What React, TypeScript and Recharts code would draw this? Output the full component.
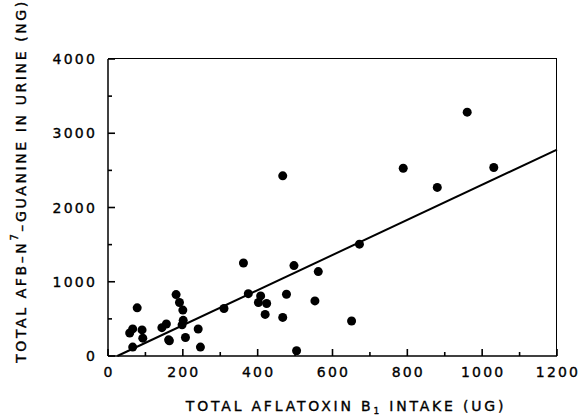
import React from 'react';
import { ScatterChart, Scatter, XAxis, YAxis } from 'recharts';

// total aflatoxin B1 intake (ug) and AFB-N7-guanine in urine (ng), one entry per subject
const intake = [
	58, 66, 66, 78, 91, 93, 144, 156, 162, 164, 182, 191, 200, 198, 201, 207, 241, 247, 310, 362, 375, 408,
	402, 424, 420, 467, 467, 477, 497, 504, 553, 562, 651, 672, 789, 880, 960, 1031,
];
const guanine = [
	310, 365, 120, 649, 351, 240, 382, 431, 218, 205, 827, 720, 618, 420, 480, 249, 364, 120, 640, 1253, 840,
	809, 720, 707, 560, 2426, 520, 831, 1218, 71, 742, 1137, 471, 1506, 2529, 2271, 3284, 2538,
];

// end points of the fitted line as drawn
const fitX = [25, 1200];
const fitY = [0, 2780];

const xTicks = [0, 50, 100, 150, 200, 250, 300, 350, 400, 450, 500, 550, 600, 650, 700, 750, 800, 850, 900, 950, 1000, 1050, 1100, 1150, 1200];
const yTicks = [0, 250, 500, 750, 1000, 1250, 1500, 1750, 2000, 2250, 2500, 2750, 3000, 3250, 3500, 3750, 4000];

const points = intake.map((x, i) => ({ x, y: guanine[i] }));
const fitLine = fitX.map((x, i) => ({ x, y: fitY[i] }));

const FONT = 'DejaVu Sans';
const TEXT = { fontFamily: FONT, fontSize: 14, letterSpacing: 2.2, fill: '#000', stroke: '#000', strokeWidth: 0.35 };
const AXIS = { stroke: '#000', strokeWidth: 1.5 };

// plot box, used only for the top and right edges of the frame
const PLOT = { left: 108, top: 59, right: 557, bottom: 356 };

// ticks point into the plot; majors are longer and carry the label
const XTick = (props: any) => {
	const { x, y, payload } = props;
	const major = payload.value % 200 === 0;
	return (
		<g>
			<path d={`M${x},${y}V${y - (major ? 7 : 4)}`} stroke="#000" strokeWidth={1.6} />
			{major && (
				<text x={x + 1} y={y + 11} dy="0.71em" textAnchor="middle" {...TEXT}>
					{payload.value}
				</text>
			)}
		</g>
	);
};

const YTick = (props: any) => {
	const { x, y, payload } = props;
	const major = payload.value % 1000 === 0;
	return (
		<g>
			<path d={`M${x},${y}H${x + (major ? 7 : 4)}`} stroke="#000" strokeWidth={1.6} />
			{major && (
				<text x={x - 11} y={y} dy="0.36em" textAnchor="end" {...TEXT}>
					{payload.value}
				</text>
			)}
		</g>
	);
};

const Dot = (props: any) => <circle cx={props.cx} cy={props.cy} r={4.5} fill="#000" />;

export default function App() {
	return (
		<div style={{ position: 'absolute', left: 0, top: 0, width: 582, height: 417 }}>
			<ScatterChart width={582} height={417} margin={{ top: 59, right: 25, left: 0, bottom: 0 }}>
				<XAxis
					type="number"
					dataKey="x"
					domain={[0, 1200]}
					ticks={xTicks}
					height={61}
					tickSize={0}
					tickMargin={0}
					tickLine={false}
					tick={<XTick />}
					axisLine={AXIS}
					label={{
						content: () => (
							<text x={346} y={411} textAnchor="middle" {...TEXT} letterSpacing={2.8}>
								TOTAL AFLATOXIN B
								<tspan fontSize={9} dy={3}>1</tspan>
								<tspan dy={-3}> INTAKE (UG)</tspan>
							</text>
						),
					}}
				/>
				<YAxis
					type="number"
					dataKey="y"
					domain={[0, 4000]}
					ticks={yTicks}
					width={108}
					tickSize={0}
					tickMargin={0}
					tickLine={false}
					tick={<YTick />}
					axisLine={AXIS}
					label={{
						content: () => (
							<text x={0} y={0} transform="translate(26, 181) rotate(-90)" textAnchor="middle" {...TEXT} letterSpacing={2.6}>
								TOTAL AFB–N
								<tspan fontSize={10} dy={-8}>7</tspan>
								<tspan dy={8}>–GUANINE IN URINE (NG)</tspan>
							</text>
						),
					}}
				/>
				<Scatter data={points} fill="#000" shape={<Dot />} isAnimationActive={false} />
				<Scatter data={fitLine} fill="none" line={{ stroke: '#000', strokeWidth: 2 }} shape={<g />} isAnimationActive={false} />
			</ScatterChart>
			<div
				style={{
					position: 'absolute',
					left: PLOT.left,
					top: PLOT.top - 0.75,
					width: PLOT.right - PLOT.left - 0.75,
					height: PLOT.bottom - PLOT.top,
					borderTop: '1.5px solid #000',
					borderRight: '1.5px solid #000',
					pointerEvents: 'none',
				}}
			/>
		</div>
	);
}
